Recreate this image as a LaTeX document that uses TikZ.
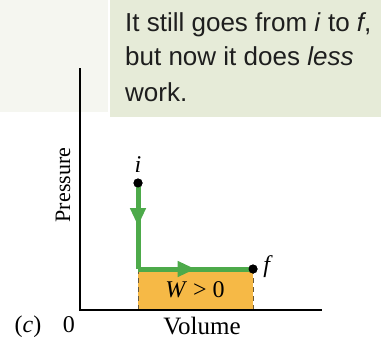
\documentclass[tikz,border=0pt]{standalone}
\usepackage{fontspec}
\setmainfont{Liberation Serif}
\newfontfamily\notefont{Liberation Sans}
\usetikzlibrary{arrows.meta,decorations.markings}
\definecolor{notebg}{HTML}{E6EBD8}
\definecolor{ghostbg}{HTML}{F5F6F0}
\definecolor{pathgreen}{HTML}{4DAA4A}
\definecolor{workfill}{HTML}{F6B946}
\definecolor{dashcol}{HTML}{6B5A3A}
\definecolor{notetextcol}{HTML}{1E1E1E}
\tikzset{
  notetext/.style={anchor=base west, inner sep=0pt, text=notetextcol, font=\notefont\fontsize{26}{30}\selectfont},
  lbl/.style={inner sep=0pt, font=\fontsize{24}{28}\selectfont},
  state/.style={circle, fill=black, inner sep=0pt, minimum size=9pt},
  proc/.style={draw=pathgreen, line width=5pt,
    postaction={decorate, decoration={markings,
      mark=at position 0.5 with {\arrow{Triangle[length=18pt,width=15pt,fill=pathgreen,color=pathgreen]}}}}},
  axis/.style={line width=1.3pt},
  edge/.style={draw=dashcol, line width=1pt, dash pattern=on 5pt off 4pt}
}
\begin{document}
\begin{tikzpicture}[x=1pt,y=-1pt]
\useasboundingbox (0,0) rectangle (381,340);
% background boxes
\fill[ghostbg] (0,0) rectangle (108,112);
\fill[notebg] (110,0) rectangle (381,117);
\node[notetext] (n1) at (125,31) {It still goes from \textit{i} to \textit{f},};
\node[notetext] (n2) at (125,66) {but now it does \textit{less}};
\node[notetext] (n3) at (125,101) {work.};
% work area
\fill[workfill] (138,269) rectangle (253,309);
\coordinate (c) at (138,269);
\coordinate (cb) at (138,309);
\coordinate (fb) at (253,309);
\node[state] (i) at (138,183) {};
\node[state] (f) at (253,269) {};
\draw[edge] (c) -- (cb);
\draw[edge] (f.center) -- (fb);
% axes
\coordinate (ytop) at (80,68);
\coordinate (o) at (80,310);
\coordinate (xend) at (322,310);
\draw[axis] (ytop) -- (o) -- (xend);
% process
\draw[proc] (i.center) -- (c);
\draw[proc] (c) -- (f.center);
\node[state] at (i) {};
\node[state] at (f) {};
% labels
\node[lbl] (il) at (138,165) {\textit{i}};
\node[lbl] (fl) at (268,267) {\textit{f}};
\node[lbl] (w) at (195,290) {\textit{W} > 0};
\node[lbl, font=\fontsize{22}{26}\selectfont, rotate=90] (p) at (63,185) {Pressure};
\node[lbl, font=\fontsize{25}{28}\selectfont] (v) at (202,326) {Volume};
\node[lbl] (zero) at (69,325) {0};
\node[lbl] (lab) at (28,327) {(\textit{c})};
\end{tikzpicture}
\end{document}
